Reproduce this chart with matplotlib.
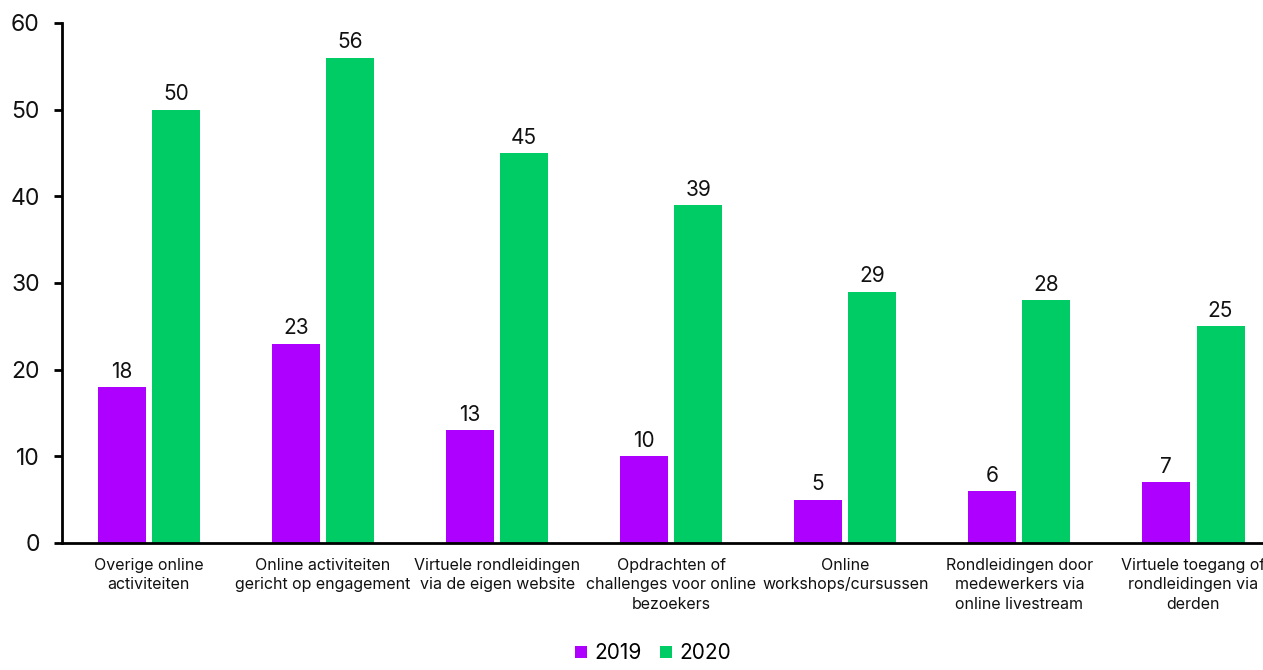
import matplotlib
matplotlib.use("Agg")
import matplotlib.pyplot as plt
import numpy as np

categories = [
    "Overige online\nactiviteiten",
    "Online activiteiten\ngericht op engagement",
    "Virtuele rondleidingen\nvia de eigen website",
    "Opdrachten of\nchallenges voor online\nbezoekers",
    "Online\nworkshops/cursussen",
    "Rondleidingen door\nmedewerkers via\nonline livestream",
    "Virtuele toegang of\nrondleidingen via\nderden",
]
values_2019 = [18, 23, 13, 10, 5, 6, 7]
values_2020 = [50, 56, 45, 39, 29, 28, 25]
series_labels = ["2019", "2020"]
colors = ["#AE00FF", "#00CC66"]
yticks = [0, 10, 20, 30, 40, 50, 60]

plt.rcParams["font.family"] = ["Inter", "DejaVu Sans"]

fig = plt.figure(figsize=(12.63, 6.70), dpi=100)
ax = fig.add_axes([0.049, 0.1896, 0.951, 0.7761])

x = np.arange(len(categories))
width = 0.276
offset = 0.156

bars1 = ax.bar(x - offset, values_2019, width, color=colors[0], label=series_labels[0])
bars2 = ax.bar(x + offset, values_2020, width, color=colors[1], label=series_labels[1])

for bars, vals in ((bars1, values_2019), (bars2, values_2020)):
    for b, v in zip(bars, vals):
        ax.text(b.get_x() + b.get_width() / 2, v + 0.6, str(v),
                ha="center", va="bottom", fontsize=15, color="#111111")

ax.set_xlim(-0.5, 6.40)
ax.set_ylim(0, 60)
ax.set_yticks(yticks)
ax.set_yticklabels([str(t) for t in yticks], fontsize=16.5, color="#111111")
ax.set_xticks(x)
ax.set_xticklabels(categories, fontsize=11.5, color="#111111", linespacing=1.35)
ax.tick_params(axis="x", length=0, pad=11)
ax.tick_params(axis="y", length=6, width=2, pad=10, direction="out")

for side in ("top", "right"):
    ax.spines[side].set_visible(False)
for side in ("left", "bottom"):
    ax.spines[side].set_linewidth(2)
    ax.spines[side].set_color("black")

leg = fig.legend(loc="lower center", bbox_to_anchor=(0.517, -0.018), ncol=2,
                 frameon=False, fontsize=15, handlelength=0.55, handleheight=0.55,
                 handletextpad=0.35, columnspacing=0.9)

fig.savefig("out.png", dpi=100)
